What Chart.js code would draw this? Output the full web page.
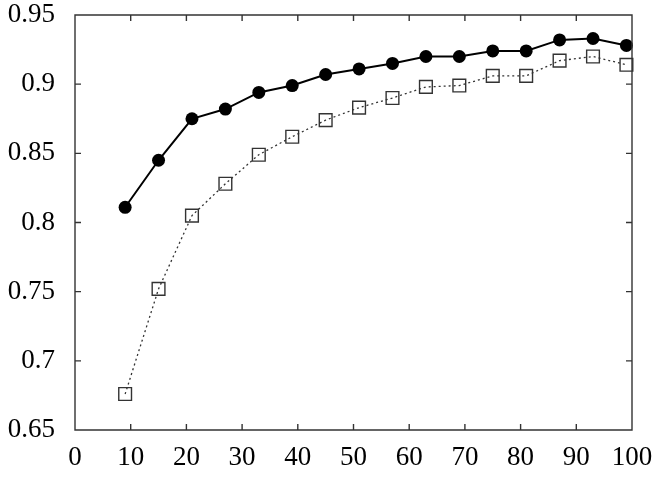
<!DOCTYPE html>
<html>
<head>
<meta charset="utf-8">
<script src="https://cdn.jsdelivr.net/npm/chart.js@4"></script>
<style>
  html, body { margin: 0; padding: 0; background: #fff; }
  #wrap { width: 658px; height: 477px; }
</style>
</head>
<body>
<div id="wrap"><canvas id="grafica"></canvas></div>
<script>
// valores
const xVals = [9, 15, 21, 27, 33, 39, 45, 51, 57, 63, 69, 75, 81, 87, 93, 99];
const serieCirculos = [0.811, 0.845, 0.875, 0.882, 0.894, 0.899, 0.907, 0.911, 0.915, 0.920, 0.920, 0.924, 0.924, 0.932, 0.933, 0.928];
const serieCuadros = [0.676, 0.752, 0.805, 0.828, 0.849, 0.862, 0.874, 0.883, 0.890, 0.898, 0.899, 0.906, 0.906, 0.917, 0.920, 0.914];
const xTicks = [0, 10, 20, 30, 40, 50, 60, 70, 80, 90, 100];
const yTicks = [0.65, 0.7, 0.75, 0.8, 0.85, 0.9, 0.95];

const toPoints = (ys) => ys.map((y, i) => ({ x: xVals[i], y: y }));

// marco superior/derecho y marcas hacia dentro
const marcasInternas = {
  id: 'marcasInternas',
  afterDatasetsDraw(chart) {
    const { ctx, chartArea: a, scales } = chart;
    const len = 6;
    ctx.save();
    ctx.strokeStyle = '#333';
    ctx.lineWidth = 1.4;
    ctx.beginPath();
    ctx.rect(a.left, a.top, a.right - a.left, a.bottom - a.top);
    xTicks.forEach(v => {
      const px = scales.x.getPixelForValue(v);
      ctx.moveTo(px, a.bottom); ctx.lineTo(px, a.bottom - len);
      ctx.moveTo(px, a.top); ctx.lineTo(px, a.top + len);
    });
    yTicks.forEach(v => {
      const py = scales.y.getPixelForValue(v);
      ctx.moveTo(a.left, py); ctx.lineTo(a.left + len, py);
      ctx.moveTo(a.right, py); ctx.lineTo(a.right - len, py);
    });
    ctx.stroke();
    ctx.restore();
  }
};

const ctx = document.getElementById('grafica').getContext('2d');
new Chart(ctx, {
  type: 'line',
  data: {
    datasets: [
      {
        label: 'A',
        data: toPoints(serieCirculos),
        borderColor: '#000',
        borderWidth: 2,
        pointStyle: 'circle',
        pointRadius: 6.5,
        pointBackgroundColor: '#000',
        pointBorderColor: '#000',
        pointBorderWidth: 0,
        tension: 0,
        fill: false,
        clip: false
      },
      {
        label: 'B',
        data: toPoints(serieCuadros),
        borderColor: '#333',
        borderWidth: 1.3,
        borderDash: [2, 3],
        pointStyle: 'rect',
        pointRadius: 9,
        pointBackgroundColor: 'rgba(0,0,0,0)',
        pointBorderColor: '#333',
        pointBorderWidth: 1.4,
        tension: 0,
        fill: false,
        clip: false
      }
    ]
  },
  options: {
    responsive: true,
    maintainAspectRatio: false,
    animation: false,
    layout: { autoPadding: false, padding: 0 },
    scales: {
      x: {
        type: 'linear',
        min: 0,
        max: 100,
        afterBuildTicks: (s) => { s.ticks = xTicks.map(v => ({ value: v })); },
        afterFit: (s) => { s.height = 47; s.paddingLeft = 0; s.paddingRight = 26; },
        grid: { display: false, drawTicks: false },
        border: { display: false },
        ticks: {
          padding: 12,
          color: '#000',
          font: { family: 'Liberation Serif', size: 27 },
          maxRotation: 0
        }
      },
      y: {
        type: 'linear',
        min: 0.65,
        max: 0.95,
        afterBuildTicks: (s) => { s.ticks = yTicks.map(v => ({ value: v })); },
        afterFit: (s) => { s.width = 75; s.paddingTop = 15; s.paddingBottom = 0; },
        grid: { display: false, drawTicks: false },
        border: { display: false },
        ticks: {
          padding: 20,
          color: '#000',
          font: { family: 'Liberation Serif', size: 27 },
          callback: (v) => String(Math.round(v * 100) / 100)
        }
      }
    },
    plugins: {
      legend: { display: false },
      tooltip: { enabled: false }
    }
  },
  plugins: [marcasInternas]
});
</script>
</body>
</html>
